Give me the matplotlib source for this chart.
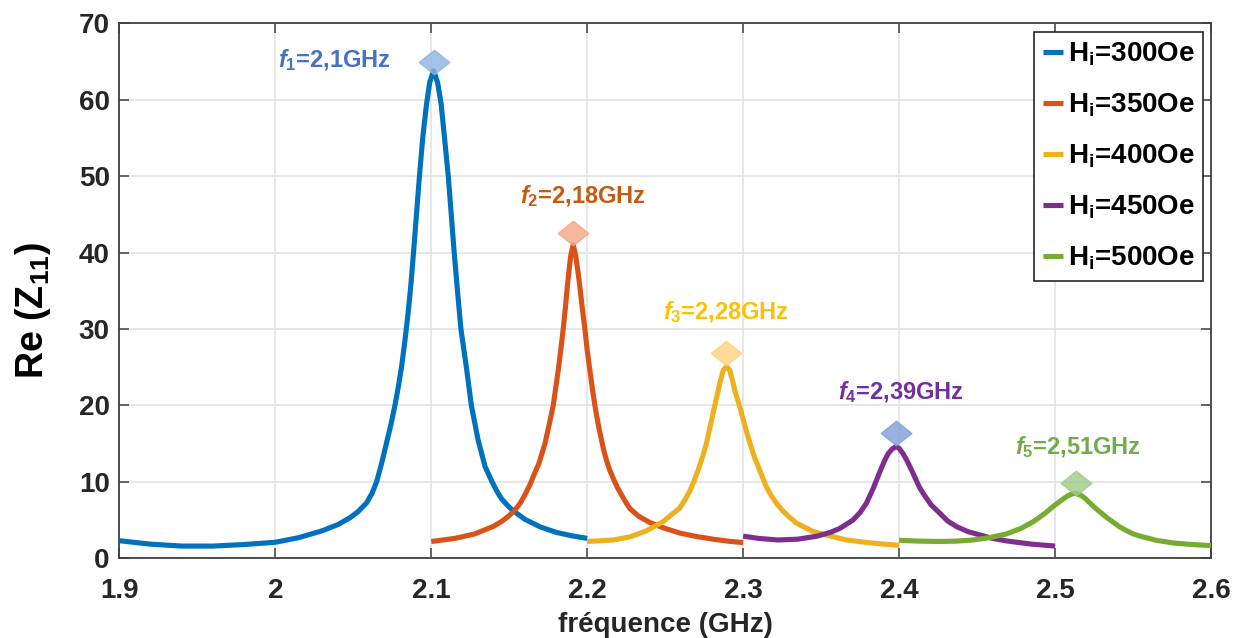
import matplotlib
matplotlib.use("Agg")
import matplotlib.pyplot as plt
from matplotlib.path import Path

plt.rcParams['font.family'] = ['Liberation Sans', 'DejaVu Sans']
plt.rcParams['font.weight'] = 'bold'
plt.rcParams['mathtext.fontset'] = 'custom'
plt.rcParams['mathtext.rm'] = 'Liberation Sans:bold'
plt.rcParams['mathtext.it'] = 'Liberation Sans:italic:bold'
plt.rcParams['mathtext.bf'] = 'Liberation Sans:bold'

# curves (GHz, Re(Z11))
f_300 = [1.900, 1.920, 1.940, 1.960, 1.980, 2.000, 2.015, 2.030, 2.040, 2.0478,
         2.0530, 2.0585, 2.0620, 2.0649, 2.0680, 2.0713, 2.0740, 2.0767, 2.0790,
         2.0809, 2.0830, 2.0852, 2.0870, 2.0886, 2.0905, 2.0924, 2.0945, 2.0970,
         2.0990, 2.1015, 2.1040, 2.1063, 2.1085, 2.1109, 2.1128, 2.1147, 2.1168,
         2.1190, 2.1225, 2.1257, 2.1300, 2.1345, 2.1390, 2.1420, 2.1450, 2.1485,
         2.1520, 2.1600, 2.1700, 2.1800, 2.1900, 2.2000]
z_300 = [2.3, 1.85, 1.6, 1.6, 1.8, 2.1, 2.7, 3.6, 4.4, 5.3,
         6.1, 7.25, 8.5, 10.0, 12.3, 15.1, 17.4, 20.0, 22.6,
         25.0, 28.3, 32.2, 36.0, 40.0, 45.0, 50.0, 55.0, 59.5,
         62.3, 63.8, 62.3, 59.5, 55.0, 50.0, 45.0, 40.0, 35.0,
         30.0, 25.0, 20.0, 15.5, 12.0, 10.0, 8.8, 7.8, 7.0,
         6.3, 5.1, 4.1, 3.4, 2.95, 2.6]

f_350 = [2.100, 2.115, 2.128, 2.140, 2.145, 2.150, 2.1535, 2.157, 2.160, 2.1632,
         2.1660, 2.1690, 2.1729, 2.1755, 2.1782, 2.1814, 2.1830, 2.1846, 2.1860,
         2.1872, 2.1885, 2.1895, 2.1910, 2.1925, 2.1940, 2.1953, 2.1968, 2.1985,
         2.2000, 2.2017, 2.2033, 2.2049, 2.2070, 2.2090, 2.2105, 2.2124, 2.2145,
         2.2170, 2.2195, 2.2220, 2.2245, 2.2274, 2.2330, 2.2400, 2.2487, 2.2594,
         2.2700, 2.2808, 2.2900, 2.3000]
z_350 = [2.2, 2.6, 3.2, 4.2, 4.8, 5.6, 6.3, 7.2, 8.3, 9.6,
         11.0, 12.4, 15.0, 17.4, 20.0, 24.6, 27.2, 30.0, 32.8,
         35.5, 38.0, 39.7, 41.0, 39.7, 37.6, 35.5, 32.8, 30.0,
         27.2, 24.6, 22.2, 20.0, 17.6, 15.6, 14.2, 12.8, 11.5,
         10.3, 9.2, 8.3, 7.4, 6.5, 5.5, 4.7, 4.0, 3.3,
         2.85, 2.5, 2.25, 2.05]

f_400 = [2.200, 2.2167, 2.2274, 2.238, 2.2487, 2.2594, 2.2625, 2.2658, 2.2685,
         2.2712, 2.2740, 2.2765, 2.2792, 2.2818, 2.2836, 2.2850, 2.2872, 2.2893,
         2.2914, 2.2936, 2.2950, 2.2979, 2.3010, 2.3043, 2.3075, 2.3107, 2.3128,
         2.3150, 2.3180, 2.3214, 2.3250, 2.3290, 2.3342, 2.3449, 2.3560, 2.3662,
         2.3780, 2.3876, 2.4000]
z_400 = [2.2, 2.4, 2.8, 3.6, 4.8, 6.6, 7.6, 8.8, 10.1,
         11.6, 13.3, 15.1, 17.6, 20.0, 21.6, 22.9, 24.6, 25.1,
         24.6, 22.9, 21.7, 19.8, 17.4, 15.1, 13.1, 11.5, 10.4,
         9.3, 8.2, 7.2, 6.3, 5.5, 4.6, 3.5, 2.9, 2.4,
         2.1, 1.9, 1.7]

f_450 = [2.300, 2.310, 2.3222, 2.335, 2.3475, 2.356, 2.3619, 2.3704, 2.3750,
         2.3790, 2.3835, 2.3876, 2.3905, 2.3930, 2.3955, 2.3979, 2.4000, 2.4025,
         2.4050, 2.4069, 2.4090, 2.4110, 2.4130, 2.4154, 2.4205, 2.4261, 2.4310,
         2.4368, 2.4440, 2.4518, 2.4600, 2.4690, 2.4850, 2.5000]
z_450 = [2.9, 2.6, 2.4, 2.5, 2.9, 3.4, 3.9, 5.0, 6.0,
         7.2, 9.2, 11.3, 12.7, 13.7, 14.3, 14.6, 14.4, 13.7,
         12.8, 12.0, 11.1, 10.2, 9.3, 8.5, 7.0, 5.9, 4.9,
         4.15, 3.5, 3.06, 2.6, 2.27, 1.85, 1.6]

f_500 = [2.400, 2.413, 2.4261, 2.437, 2.4475, 2.458, 2.469, 2.478, 2.4861,
         2.493, 2.4989, 2.5035, 2.5075, 2.5105, 2.5130, 2.5160, 2.5190, 2.5215,
         2.5246, 2.5280, 2.5310, 2.5340, 2.5375, 2.5415, 2.5460, 2.5500, 2.5546,
         2.5650, 2.5760, 2.5880, 2.6000]
z_500 = [2.35, 2.25, 2.2, 2.25, 2.4, 2.7, 3.2, 3.9, 4.8,
         5.8, 6.8, 7.5, 8.1, 8.4, 8.5, 8.3, 7.9, 7.4,
         6.8, 6.2, 5.7, 5.2, 4.7, 4.1, 3.6, 3.2, 2.9,
         2.35, 2.0, 1.8, 1.66]

labels = ['H$_\\mathrm{i}$=300Oe', 'H$_\\mathrm{i}$=350Oe', 'H$_\\mathrm{i}$=400Oe',
          'H$_\\mathrm{i}$=450Oe', 'H$_\\mathrm{i}$=500Oe']

# resonance markers and their labels
peak_f = [2.1015, 2.1906, 2.2893, 2.3980, 2.5133]
peak_z = [65.0, 42.6, 26.9, 16.4, 9.8]
peak_txt = ['$f_1$=2,1GHz', '$f_2$=2,18GHz', '$f_3$=2,28GHz',
            '$f_4$=2,39GHz', '$f_5$=2,51GHz']
txt_f = [2.0378, 2.1971, 2.2888, 2.4010, 2.5144]
txt_z = [65.2, 47.4, 32.2, 21.8, 14.6]

line_cols = ['#0072BD', '#D95319', '#EDB120', '#7E2F8E', '#77AC30']
txt_cols = ['#4472C4', '#C55A11', '#FFC000', '#7030A0', '#70AD47']
mk_cols = ['#8EB4E3', '#F4A582', '#FFD27F', '#7F9ED9', '#9CCB86']

W, H = 1239, 638
fig = plt.figure(figsize=(W / 100, H / 100), dpi=100)
ax = fig.add_axes([119.4 / W, 1 - 558.3 / H, (1211 - 119.4) / W, (558.3 - 23.4) / H])

curves = [(f_300, z_300), (f_350, z_350), (f_400, z_400), (f_450, z_450), (f_500, z_500)]
for (fx, zy), c, lab in zip(curves, line_cols, labels):
    ax.plot(fx, zy, color=c, lw=3.7, label=lab, solid_capstyle='butt',
            solid_joinstyle='round', zorder=3)

diamond = Path([(-1, 0), (0, 0.8), (1, 0), (0, -0.8), (-1, 0)],
               [Path.MOVETO, Path.LINETO, Path.LINETO, Path.LINETO, Path.CLOSEPOLY])
for px, pz, mc in zip(peak_f, peak_z, mk_cols):
    ax.plot(px, pz, marker=diamond, ms=22, mfc=mc, mec=mc, alpha=0.8,
            ls='none', zorder=4)
for tx, tz, t, c in zip(txt_f, txt_z, peak_txt, txt_cols):
    ax.text(tx, tz, t, color=c, fontsize=17, fontweight='bold',
            ha='center', va='center', zorder=5)

ax.set_xlim(1.9, 2.6)
ax.set_ylim(0, 70)
ax.set_xticks([1.9, 2.0, 2.1, 2.2, 2.3, 2.4, 2.5, 2.6])
ax.set_xticklabels(['1.9', '2', '2.1', '2.2', '2.3', '2.4', '2.5', '2.6'])
ax.set_yticks(range(0, 71, 10))
ax.grid(True, color='#E3E3E3', lw=1.2)
ax.set_axisbelow(True)
for s in ax.spines.values():
    s.set_color('#404040')
    s.set_linewidth(1.3)
ax.tick_params(direction='in', length=7, width=1.1, color='#404040',
               top=True, right=True, labelsize=20, labelcolor='#262626')
ax.tick_params(axis='x', pad=14)
ax.tick_params(axis='y', pad=7)
for lb in ax.get_xticklabels() + ax.get_yticklabels():
    lb.set_fontweight('bold')

ax.set_xlabel('fréquence (GHz)', fontsize=20, fontweight='bold', color='#262626')
ax.xaxis.set_label_coords(0.5, -0.1)
ax.set_ylabel('Re (Z$_\\mathrm{11}$)', fontsize=27, fontweight='bold', color='black')
ax.yaxis.set_label_coords(-0.061, 0.464)

leg = ax.legend(loc='upper right', bbox_to_anchor=(1203 / W, 1 - 32 / H),
                bbox_transform=fig.transFigure, fontsize=20, frameon=True,
                fancybox=False, framealpha=1, edgecolor='#262626',
                handlelength=0.75, handletextpad=0.15, borderpad=0.3,
                labelspacing=0.85, borderaxespad=0)
leg.get_frame().set_linewidth(1.2)
for t in leg.get_texts():
    t.set_fontweight('bold')

fig.savefig('out.png', dpi=100)
